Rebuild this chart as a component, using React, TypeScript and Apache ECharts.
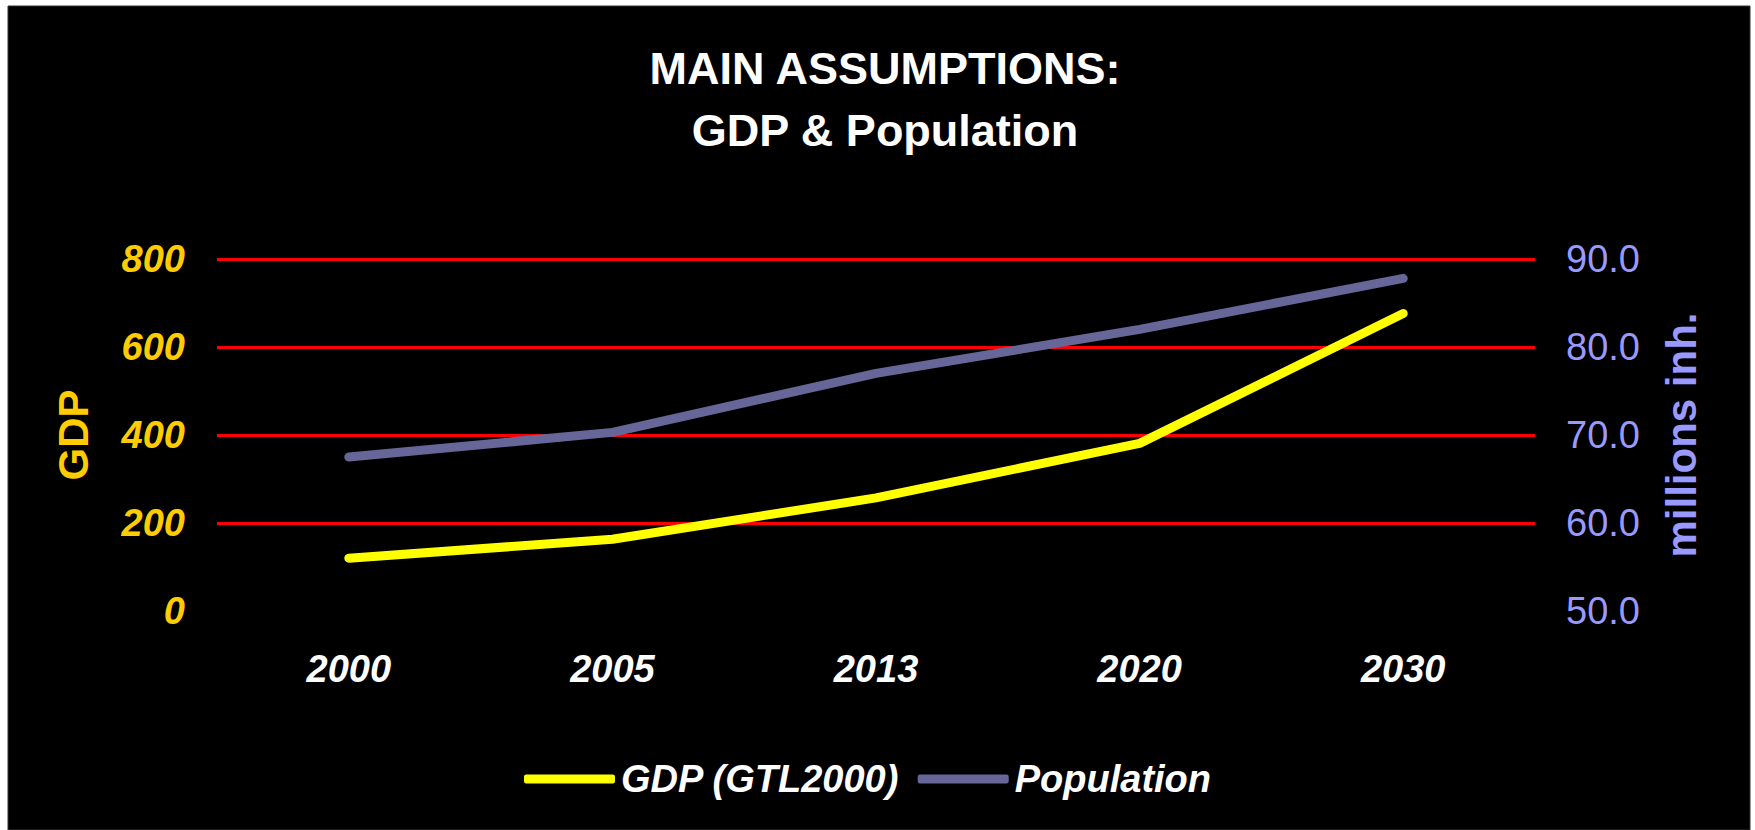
import React, { useEffect, useRef } from "react";
import * as echarts from "echarts";

const categories = ["2000", "2005", "2013", "2020", "2030"];
const gdpValues = [120, 163, 257, 381, 676];
const populationValues = [67.5, 70.3, 77.0, 82.0, 87.8];
const seriesNames = ["GDP (GTL2000)", "Population"];

const FONT = "'Liberation Sans', Arial, Helvetica, sans-serif";

export default function App() {
  const ref = useRef<HTMLDivElement>(null);
  useEffect(() => {
    if (!ref.current) return;
    const chart = echarts.init(ref.current, null, { renderer: "svg" });
    chart.setOption({
      animation: false,
      backgroundColor: "#ffffff",
      graphic: [
        {
          type: "rect",
          z: -10,
          silent: true,
          shape: { x: 8, y: 6, width: 1742, height: 824 },
          style: { fill: "#000000", stroke: "#333333", lineWidth: 1 },
        },
      ],
      title: {
        text: "MAIN ASSUMPTIONS:\nGDP & Population",
        left: 880,
        top: 32,
        textAlign: "center",
        textStyle: {
          color: "#ffffff",
          fontFamily: FONT,
          fontWeight: "bold",
          fontSize: 45,
          lineHeight: 62,
        },
      },
      legend: {
        left: 519,
        top: 755,
        itemWidth: 91,
        itemHeight: 9,
        itemGap: 18,
        icon: "roundRect",
        data: seriesNames,
        textStyle: {
          color: "#ffffff",
          fontFamily: FONT,
          fontWeight: "bold",
          fontStyle: "italic",
          fontSize: 38,
          padding: [0, 0, 0, 1],
        },
      },
      grid: { left: 217, right: 220, top: 259, bottom: 219 },
      xAxis: {
        type: "category",
        data: categories,
        boundaryGap: true,
        axisLine: { show: false },
        axisTick: { show: false },
        axisLabel: {
          color: "#ffffff",
          fontFamily: FONT,
          fontWeight: "bold",
          fontStyle: "italic",
          fontSize: 38,
          margin: 39,
        },
      },
      yAxis: [
        {
          type: "value",
          min: 0,
          max: 800,
          interval: 200,
          position: "left",
          name: "GDP",
          nameLocation: "middle",
          nameRotate: 90,
          nameGap: 123,
          nameTextStyle: {
            color: "#FFCC00",
            fontFamily: FONT,
            fontWeight: "bold",
            fontSize: 42,
          },
          axisLine: { show: false },
          axisTick: { show: false },
          axisLabel: {
            color: "#FFCC00",
            fontFamily: FONT,
            fontWeight: "bold",
            fontStyle: "italic",
            fontSize: 38,
            margin: 32,
          },
          splitLine: {
            show: true,
            showMinLine: false,
            lineStyle: { color: "#FF0000", width: 3 },
          },
        },
        {
          type: "value",
          min: 50,
          max: 90,
          interval: 10,
          position: "right",
          name: "millions inh.",
          nameLocation: "middle",
          nameRotate: 90,
          nameGap: 125,
          nameTextStyle: {
            color: "#9999FF",
            fontFamily: FONT,
            fontWeight: "bold",
            fontSize: 42,
          },
          axisLine: { show: false },
          axisTick: { show: false },
          axisLabel: {
            color: "#9999FF",
            fontFamily: FONT,
            fontSize: 38,
            margin: 31,
            formatter: (v: number) => v.toFixed(1),
          },
          splitLine: { show: false },
        },
      ],
      series: [
        {
          name: seriesNames[0],
          type: "line",
          yAxisIndex: 0,
          data: gdpValues,
          symbol: "none",
          lineStyle: { color: "#FFFF00", width: 9, cap: "round", join: "round" },
          itemStyle: { color: "#FFFF00" },
        },
        {
          name: seriesNames[1],
          type: "line",
          yAxisIndex: 1,
          data: populationValues,
          symbol: "none",
          lineStyle: { color: "#666699", width: 9, cap: "round", join: "round" },
          itemStyle: { color: "#666699" },
        },
      ],
    });
    return () => chart.dispose();
  }, []);
  return (
    <div
      ref={ref}
      style={{ position: "absolute", left: 0, top: 0, width: 1755, height: 830 }}
    />
  );
}
